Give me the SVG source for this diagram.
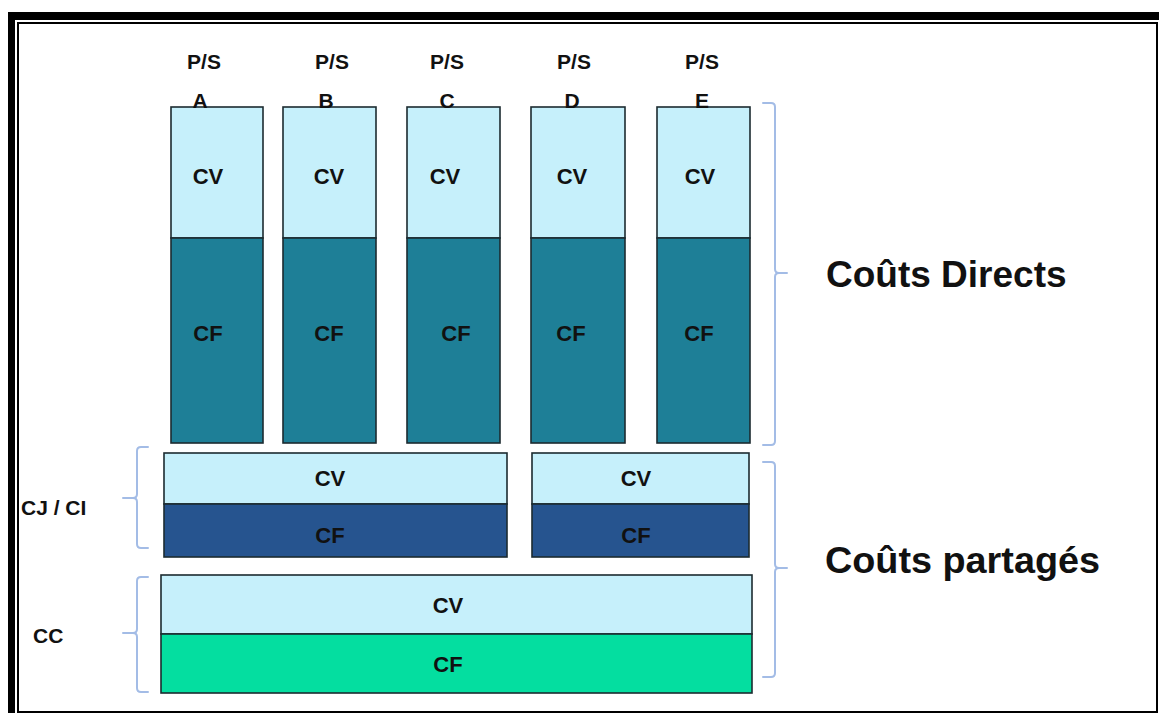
<svg xmlns="http://www.w3.org/2000/svg" width="1159" height="713" viewBox="0 0 1159 713">
  <style>
    text { font-family: "Liberation Sans", Arial, sans-serif; font-weight: bold; fill: #111; text-anchor: middle; }
    .lbl { font-size: 21px; }
    .cell { font-size: 22px; }
    .big { font-size: 37px; text-anchor: start; }
    .side { font-size: 21px; text-anchor: start; }
    .box { stroke: #1c2b30; stroke-width: 1.6; }
    .cv { fill: #c6f0fb; }
    .cfd { fill: #1e7f97; }
    .cfj { fill: #26548f; }
    .cfc { fill: #04dea0; }
    .brace { fill: none; stroke: #a3bce6; stroke-width: 2; stroke-linecap: round; stroke-linejoin: round; }
  </style>

  <rect x="0" y="0" width="1159" height="713" fill="#ffffff"/>

  <!-- page frame: heavy black band top/left plus a thin inner rule -->
  <g id="frame">
    <rect x="8" y="12" width="1151" height="8" fill="#000"/>
    <rect x="8" y="12" width="7" height="701" fill="#000"/>
    <rect x="18" y="23" width="1139" height="689" fill="none" stroke="#000" stroke-width="2"/>
  </g>

  <!-- product / service columns -->
  <g id="col-a">
    <rect class="box cv" x="171" y="107" width="92" height="131"/>
    <rect class="box cfd" x="171" y="238" width="92" height="205"/>
    <text class="cell" x="208" y="184">CV</text>
    <text class="cell" x="208" y="341">CF</text>
    <text class="lbl" x="204" y="69">P/S</text>
    <text class="lbl" x="200" y="108">A</text>
  </g>
  <g id="col-b">
    <rect class="box cv" x="283" y="107" width="93" height="131"/>
    <rect class="box cfd" x="283" y="238" width="93" height="205"/>
    <text class="cell" x="329" y="184">CV</text>
    <text class="cell" x="329" y="341">CF</text>
    <text class="lbl" x="332" y="69">P/S</text>
    <text class="lbl" x="326" y="108">B</text>
  </g>
  <g id="col-c">
    <rect class="box cv" x="407" y="107" width="93" height="131"/>
    <rect class="box cfd" x="407" y="238" width="93" height="205"/>
    <text class="cell" x="445" y="184">CV</text>
    <text class="cell" x="456" y="341">CF</text>
    <text class="lbl" x="447" y="69">P/S</text>
    <text class="lbl" x="447" y="108">C</text>
  </g>
  <g id="col-d">
    <rect class="box cv" x="531" y="107" width="94" height="131"/>
    <rect class="box cfd" x="531" y="238" width="94" height="205"/>
    <text class="cell" x="572" y="184">CV</text>
    <text class="cell" x="571" y="341">CF</text>
    <text class="lbl" x="574" y="69">P/S</text>
    <text class="lbl" x="572" y="108">D</text>
  </g>
  <g id="col-e">
    <rect class="box cv" x="657" y="107" width="93" height="131"/>
    <rect class="box cfd" x="657" y="238" width="93" height="205"/>
    <text class="cell" x="700" y="184">CV</text>
    <text class="cell" x="699" y="341">CF</text>
    <text class="lbl" x="702" y="69">P/S</text>
    <text class="lbl" x="702" y="108">E</text>
  </g>

  <!-- joint / indirect costs -->
  <g id="cj-1">
    <rect class="box cv" x="164" y="453" width="343" height="51"/>
    <rect class="box cfj" x="164" y="504" width="343" height="53"/>
    <text class="cell" x="330" y="486">CV</text>
    <text class="cell" x="330" y="543">CF</text>
  </g>
  <g id="cj-2">
    <rect class="box cv" x="532" y="453" width="217" height="51"/>
    <rect class="box cfj" x="532" y="504" width="217" height="53"/>
    <text class="cell" x="636" y="486">CV</text>
    <text class="cell" x="636" y="543">CF</text>
  </g>

  <!-- common costs -->
  <g id="cc">
    <rect class="box cv" x="161" y="575" width="591" height="59"/>
    <rect class="box cfc" x="161" y="634" width="591" height="59"/>
    <text class="cell" x="448" y="613">CV</text>
    <text class="cell" x="448" y="672">CF</text>
  </g>

  <!-- side labels -->
  <g id="labels">
    <text class="side" x="21" y="515">CJ / CI</text>
    <text class="side" x="33" y="643">CC</text>
    <text class="big" x="826" y="287">Coûts Directs</text>
    <text class="big" x="825" y="573" textLength="275" lengthAdjust="spacingAndGlyphs">Coûts partagés</text>
  </g>

  <!-- braces -->
  <g id="connectors">
    <path class="brace" d="M763 103 H771 Q775 103 775 107 V269 Q775 273 779 273 H787 M779 273 Q775 273 775 277 V441 Q775 445 771 445 H763"/>
    <path class="brace" d="M763 462 H771 Q775 462 775 466 V564 Q775 568 779 568 H787 M779 568 Q775 568 775 572 V673 Q775 677 771 677 H763"/>
    <path class="brace" d="M148 447 H141 Q137 447 137 451 V494 Q137 498 133 498 H123 M133 498 Q137 498 137 502 V544 Q137 548 141 548 H148"/>
    <path class="brace" d="M148 577 H141 Q137 577 137 581 V629 Q137 633 133 633 H123 M133 633 Q137 633 137 637 V688 Q137 692 141 692 H148"/>
  </g>
</svg>
